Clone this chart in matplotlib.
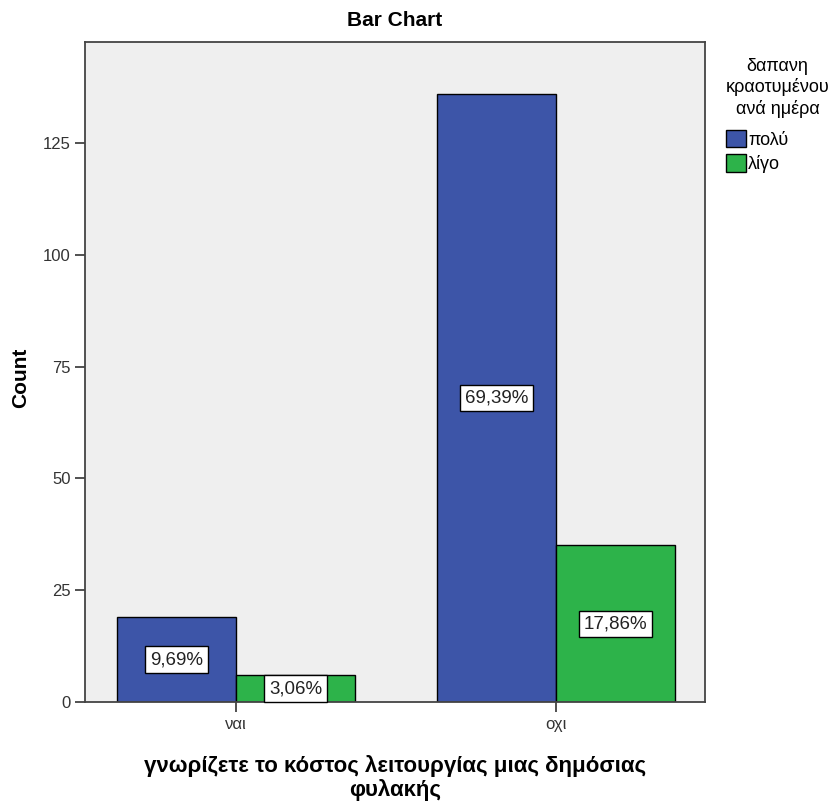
import numpy as np
import matplotlib.pyplot as plt
from matplotlib.patches import Patch

plt.rcParams['font.family'] = ['Liberation Sans', 'DejaVu Sans']

categories = ["ναι", "οχι"]
series_names = ["πολύ", "λίγο"]
polu = [19, 136]
ligo = [6, 35]
pct_polu = ["9,69%", "69,39%"]
pct_ligo = ["3,06%", "17,86%"]

colors = ["#3D55A8", "#2DB34A"]

fig = plt.figure(figsize=(8.3, 8.05), dpi=100)
ax = fig.add_axes([85/830, 1-702/805, 620/830, 660/805])
ax.set_facecolor("#EFEFEF")

x = np.arange(len(categories))
w = 0.372
b1 = ax.bar(x - w/2, polu, w, color=colors[0], edgecolor="black", linewidth=1)
b2 = ax.bar(x + w/2, ligo, w, color=colors[1], edgecolor="black", linewidth=1)

box = dict(boxstyle="square,pad=0.25", facecolor="white", edgecolor="black", linewidth=1)
for bars, labs in [(b1, pct_polu), (b2, pct_ligo)]:
    for r, lab in zip(bars, labs):
        ax.text(r.get_x() + r.get_width()/2, r.get_height()/2, lab,
                ha="center", va="center", fontsize=13.5, color="#222222", bbox=box)

ax.set_xlim(-0.472, 1.466)
ax.set_ylim(0, 147.6)
ax.set_yticks([0, 25, 50, 75, 100, 125])
ax.set_xticks(x)
ax.set_xticklabels(categories)
ax.tick_params(labelsize=12, colors="#333333", length=7, width=1.2)
for s in ax.spines.values():
    s.set_color("#444444")
    s.set_linewidth(1.3)

fig.text(395/830, 1-20/805, "Bar Chart", fontsize=15, fontweight="bold",
         ha="center", va="center")
fig.text(21/830, 1-378/805, "Count", fontsize=15, fontweight="bold",
         ha="center", va="center", rotation=90)
fig.text(395/830, 1-778/805, "γνωρίζετε το κόστος λειτουργίας μιας δημόσιας\nφυλακής",
         fontsize=16, fontweight="bold", ha="center", va="center", linespacing=1.1)

handles = [Patch(facecolor=c, edgecolor="black") for c in colors]
leg = fig.legend(handles, series_names, title="δαπανη\nκραοτυμένου\nανά ημέρα",
                 loc="upper left", bbox_to_anchor=(713/830, 1-45/805),
                 frameon=False, fontsize=13, title_fontsize=13,
                 handlelength=1.1, handleheight=1.1, handletextpad=0.15,
                 labelspacing=0.3, borderpad=0.2)
leg.get_title().set_multialignment("center")
leg.get_title().set_linespacing(1.25)
leg._legend_box.sep = 9
leg._legend_box.align = "left"

fig.savefig("out.png", dpi=100)
